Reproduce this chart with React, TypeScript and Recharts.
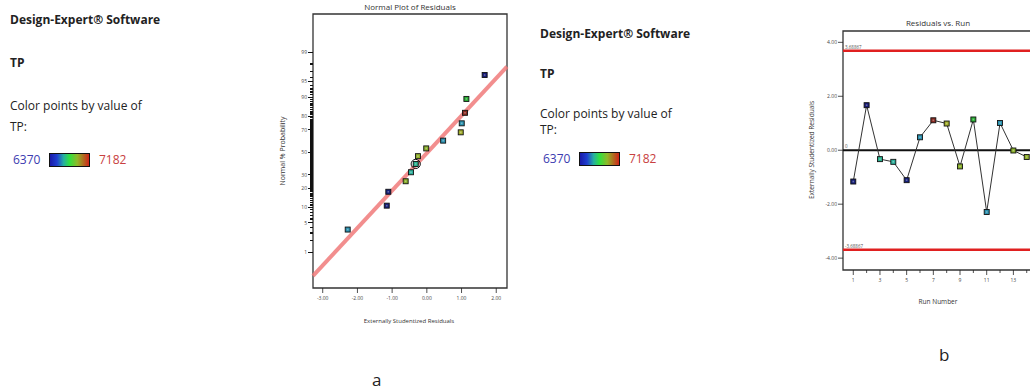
import React from "react";
import {
  ScatterChart,
  Scatter,
  LineChart,
  Line,
  XAxis,
  YAxis,
  ReferenceLine,
  ReferenceArea,
} from "recharts";

// Residuals vs. run
const runNumbers = [1, 2, 3, 4, 5, 6, 7, 8, 9, 10, 11, 12, 13, 14];
const runResiduals = [-1.16, 1.67, -0.33, -0.43, -1.11, 0.48, 1.11, 0.99, -0.6, 1.14, -2.29, 1.01, -0.01, -0.25];
// TP response per run, estimated from the point colours
const runTP = [6386, 6380, 6625, 6605, 6390, 6524, 7166, 6963, 6922, 6760, 6524, 6530, 6922, 6930];

// Normal plot of residuals (panel a), points in plotted order
const normalResiduals = [-2.28, -1.155, -1.11, -0.61, -0.457, -0.32, -0.256, -0.017, 0.47, 0.977, 1.006, 1.1, 1.14, 1.666];
const normalProbability = [3.6, 10.7, 17.9, 25, 32.1, 39.3, 46.4, 53.6, 60.7, 67.9, 75, 82.1, 89.3, 96.4];
const normalRun = [11, 1, 5, 9, 4, 3, 14, 13, 6, 8, 12, 7, 10, 2];
const highlightedRun = 3;

const fitLineResiduals = [-3.28, 2.31];
const fitLineProbability = [0.2, 97.7];

const probTickLabels = [1, 5, 10, 20, 30, 50, 70, 80, 90, 95, 99];
const residualTickLabels = [-3, -2, -1, 0, 1, 2];
const studentizedTicks = [-4, -2, 0, 2, 4];
const controlLimit = 3.68867;

const TP_MIN = 6370;
const TP_MAX = 7182;

// inverse normal CDF (Acklam) for the probability axis
function probit(pct: number) {
  const p = pct / 100;
  const a = [-39.69683028665376, 220.9460984245205, -275.9285104469687, 138.357751867269, -30.66479806614716, 2.506628277459239];
  const b = [-54.47609879822406, 161.5858368580409, -155.6989798598866, 66.80131188771972, -13.28068155288572];
  const c = [-0.007784894002430293, -0.3223964580411365, -2.400758277161838, -2.549732539343734, 4.374664141464968, 2.938163982698783];
  const d = [0.007784695709041462, 0.3224671290700398, 2.445134137142996, 3.754408661907416];
  const pl = 0.02425;
  if (p < pl) {
    const q = Math.sqrt(-2 * Math.log(p));
    return (((((c[0] * q + c[1]) * q + c[2]) * q + c[3]) * q + c[4]) * q + c[5]) / ((((d[0] * q + d[1]) * q + d[2]) * q + d[3]) * q + 1);
  }
  if (p <= 1 - pl) {
    const q = p - 0.5;
    const r = q * q;
    return ((((((a[0] * r + a[1]) * r + a[2]) * r + a[3]) * r + a[4]) * r + a[5]) * q) / (((((b[0] * r + b[1]) * r + b[2]) * r + b[3]) * r + b[4]) * r + 1);
  }
  const q = Math.sqrt(-2 * Math.log(1 - p));
  return -(((((c[0] * q + c[1]) * q + c[2]) * q + c[3]) * q + c[4]) * q + c[5]) / ((((d[0] * q + d[1]) * q + d[2]) * q + d[3]) * q + 1);
}

// blue -> cyan -> green -> yellow -> red, like the Design-Expert colour bar
function tpColor(tp: number) {
  const t = Math.max(0, Math.min(1, (tp - TP_MIN) / (TP_MAX - TP_MIN)));
  const hue = 240 * (1 - t);
  const light = t < 0.12 ? 26 + 12 * (t / 0.12) : t > 0.9 ? 38 - 6 * ((t - 0.9) / 0.1) : 42;
  const sat = t < 0.12 ? 70 : 62;
  return `hsl(${hue.toFixed(0)}, ${sat}%, ${light.toFixed(0)}%)`;
}

const normalData = normalResiduals.map((res, i) => ({
  res,
  z: probit(normalProbability[i]),
  tp: runTP[normalRun[i] - 1],
  run: normalRun[i],
}));

const runData = runNumbers.map((run, i) => ({ run, res: runResiduals[i], tp: runTP[i] }));

const fitSegment = fitLineResiduals.map((x, i) => ({ x, y: probit(fitLineProbability[i]) }));

const majorZ = probTickLabels.map((p) => probit(p));
const minorZ: number[] = [];
for (let p = 1; p <= 99; p++) {
  if (!probTickLabels.includes(p)) minorZ.push(probit(p));
}
const probTicksZ = [...majorZ, ...minorZ];

const Z_DOMAIN: [number, number] = [-3.16, 3.22];
const RES_DOMAIN: [number, number] = [-3.28, 2.31];
const RUN_DOMAIN: [number, number] = [0.23, 14.62];
const STU_DOMAIN: [number, number] = [-4.44, 4.42];

const tickFont = { fontSize: 5, fill: "#444", fontFamily: "'Open Sans', sans-serif" };

const ProbTick = (props: any) => {
  const { x, y, payload } = props;
  const idx = majorZ.findIndex((z) => Math.abs(z - payload.value) < 1e-9);
  const major = idx >= 0;
  return (
    <g>
      <line
        x1={x}
        x2={x - (major ? 5 : 3.5)}
        y1={y}
        y2={y}
        stroke="#111"
        strokeWidth={major ? 1 : 1.2}
        shapeRendering="crispEdges"
      />
      {major && (
        <text x={x - 6} y={y + 1.8} textAnchor="end" {...tickFont}>
          {probTickLabels[idx]}
        </text>
      )}
    </g>
  );
};

const ResTick = (props: any) => {
  const { x, y, payload } = props;
  return (
    <g>
      <line x1={x} x2={x} y1={y} y2={y + 5} stroke="#222" strokeWidth={0.8} />
      <text x={x} y={y + 12} textAnchor="middle" {...tickFont}>
        {payload.value.toFixed(2)}
      </text>
    </g>
  );
};

const RunTick = (props: any) => {
  const { x, y, payload } = props;
  const major = payload.value % 2 === 1;
  return (
    <g>
      <line x1={x} x2={x} y1={y} y2={y + (major ? 5 : 3)} stroke="#222" strokeWidth={0.8} />
      {major && (
        <text x={x} y={y + 12} textAnchor="middle" {...tickFont}>
          {payload.value}
        </text>
      )}
    </g>
  );
};

const StuTick = (props: any) => {
  const { x, y, payload } = props;
  return (
    <g>
      <line x1={x} x2={x - 5} y1={y} y2={y} stroke="#222" strokeWidth={0.8} />
      <text x={x - 6} y={y + 1.8} textAnchor="end" {...tickFont}>
        {payload.value.toFixed(2)}
      </text>
    </g>
  );
};

const SquareDot = (props: any) => {
  const { cx, cy, payload, ring } = props;
  if (cx == null || cy == null) return null;
  return (
    <g>
      {ring && <circle cx={cx} cy={cy} r={4.6} fill="none" stroke="#111" strokeWidth={1} />}
      <rect x={cx - 2.5} y={cy - 2.5} width={5} height={5} fill={tpColor(payload.tp)} stroke="#111" strokeWidth={0.9} />
      <rect x={cx - 0.8} y={cy - 0.8} width={1.6} height={1.6} fill="#fff" fillOpacity={0.35} />
    </g>
  );
};

const limitLabel = (text: string) => (props: any) => {
  const vb = props.viewBox || {};
  return (
    <text x={(vb.x || 0) + 2} y={(vb.y || 0) - 2} fontSize={4.5} fill="#555" fontFamily="'Open Sans', sans-serif">
      {text}
    </text>
  );
};

type TxtProps = { x: number; cy: number; size: number; bold?: boolean; color?: string; children: React.ReactNode };
const Txt = ({ x, cy, size, bold, color, children }: TxtProps) => (
  <div
    style={{
      position: "absolute",
      left: x,
      top: cy - size * 0.63,
      fontSize: size,
      lineHeight: `${size * 1.2}px`,
      fontWeight: bold ? 700 : 400,
      color: color || "#222",
      whiteSpace: "nowrap",
    }}
  >
    {children}
  </div>
);

const CenterTxt = ({ cx, cy, size, rotate, children }: { cx: number; cy: number; size: number; rotate?: boolean; children: React.ReactNode }) => (
  <div
    style={{
      position: "absolute",
      left: cx,
      top: cy,
      fontSize: size,
      lineHeight: `${size * 1.2}px`,
      color: "#333",
      whiteSpace: "nowrap",
      transform: `translate(-50%, -50%)${rotate ? " rotate(-90deg)" : ""}`,
    }}
  >
    {children}
  </div>
);

const InfoBlock = ({ x, rows }: { x: number; rows: number[] }) => (
  <>
    <Txt x={x} cy={rows[0]} size={12} bold>
      Design-Expert® Software
    </Txt>
    <Txt x={x} cy={rows[1]} size={12} bold>
      TP
    </Txt>
    <Txt x={x} cy={rows[2]} size={12}>
      Color points by value of
    </Txt>
    <Txt x={x} cy={rows[3]} size={12}>
      TP:
    </Txt>
    <Txt x={x + 3} cy={rows[4]} size={12} color="#3b3bb0">
      {TP_MIN}
    </Txt>
    <div
      style={{
        position: "absolute",
        left: x + 39,
        top: rows[4] - 8,
        width: 41,
        height: 14,
        border: "1px solid #111",
        boxSizing: "border-box",
        background:
          "linear-gradient(to right, #1a1aa8 0%, #1f3fd0 18%, #25b0a0 35%, #30e040 50%, #90b828 70%, #d02418 100%)",
      }}
    />
    <Txt x={x + 89} cy={rows[4]} size={12} color="#c84040">
      {TP_MAX}
    </Txt>
  </>
);

export default function App() {
  return (
    <div
      style={{
        position: "absolute",
        left: 0,
        top: 0,
        width: 1030,
        height: 391,
        overflow: "hidden",
        background: "#fff",
        fontFamily: "'Open Sans', sans-serif",
      }}
    >
      <InfoBlock x={10} rows={[21, 64, 107, 128, 161]} />
      <InfoBlock x={540} rows={[35, 75, 115, 131, 160]} />

      {/* a: normal plot */}
      <CenterTxt cx={410} cy={7} size={8}>
        Normal Plot of Residuals
      </CenterTxt>
      <CenterTxt cx={283} cy={151} size={7} rotate>
        Normal % Probability
      </CenterTxt>
      <CenterTxt cx={409} cy={322} size={6}>
        Externally Studentized Residuals
      </CenterTxt>
      <div style={{ position: "absolute", left: 260, top: 0 }}>
        <ScatterChart width={260} height={340} margin={{ top: 14, right: 13, bottom: 22, left: 13 }}>
          <XAxis
            type="number"
            dataKey="res"
            domain={RES_DOMAIN}
            allowDataOverflow
            ticks={residualTickLabels}
            interval={0}
            tick={(p: any) => <ResTick {...p} />}
            tickLine={false}
            axisLine={false}
            tickSize={0}
            tickMargin={0}
            height={30}
          />
          <YAxis
            type="number"
            dataKey="z"
            domain={Z_DOMAIN}
            allowDataOverflow
            ticks={probTicksZ}
            interval={0}
            tick={(p: any) => <ProbTick {...p} />}
            tickLine={false}
            axisLine={false}
            tickSize={0}
            tickMargin={0}
            width={40}
          />
          <ReferenceArea
            x1={RES_DOMAIN[0]}
            x2={RES_DOMAIN[1]}
            y1={Z_DOMAIN[0]}
            y2={Z_DOMAIN[1]}
            fill="none"
            fillOpacity={0}
            stroke="#333"
            strokeWidth={1.3}
          />
          <ReferenceLine segment={fitSegment} stroke="#f07a7a" strokeWidth={4} strokeOpacity={0.85} />
          <Scatter
            data={normalData}
            shape={(p: any) => <SquareDot {...p} ring={p.payload && p.payload.run === highlightedRun} />}
            isAnimationActive={false}
          />
        </ScatterChart>
      </div>
      <div style={{ position: "absolute", left: 372, top: 368, fontSize: 17, color: "#222" }}>a</div>

      {/* b: residuals vs run */}
      <CenterTxt cx={938} cy={23} size={8}>
        Residuals vs. Run
      </CenterTxt>
      <CenterTxt cx={812} cy={150} size={6.5} rotate>
        Externally Studentized Residuals
      </CenterTxt>
      <CenterTxt cx={938} cy={302} size={6.5}>
        Run Number
      </CenterTxt>
      <div style={{ position: "absolute", left: 790, top: 0 }}>
        <LineChart data={runData} width={260} height={330} margin={{ top: 31, right: 15, bottom: 30, left: 13 }}>
          <XAxis
            type="number"
            dataKey="run"
            domain={RUN_DOMAIN}
            allowDataOverflow
            ticks={runNumbers}
            interval={0}
            tick={(p: any) => <RunTick {...p} />}
            tickLine={false}
            axisLine={false}
            tickSize={0}
            tickMargin={0}
            height={30}
          />
          <YAxis
            type="number"
            domain={STU_DOMAIN}
            allowDataOverflow
            ticks={studentizedTicks}
            interval={0}
            tick={(p: any) => <StuTick {...p} />}
            tickLine={false}
            axisLine={false}
            tickSize={0}
            tickMargin={0}
            width={40}
          />
          <ReferenceArea
            x1={RUN_DOMAIN[0]}
            x2={RUN_DOMAIN[1]}
            y1={STU_DOMAIN[0]}
            y2={STU_DOMAIN[1]}
            fill="none"
            fillOpacity={0}
            stroke="#333"
            strokeWidth={1.3}
          />
          <ReferenceLine y={controlLimit} stroke="#e02020" strokeWidth={2.5} label={limitLabel(String(controlLimit))} />
          <ReferenceLine y={-controlLimit} stroke="#e02020" strokeWidth={2.5} label={limitLabel(String(-controlLimit))} />
          <ReferenceLine y={0} stroke="#111" strokeWidth={2} label={limitLabel("0")} />
          <Line
            type="linear"
            dataKey="res"
            stroke="#333"
            strokeWidth={1}
            dot={(p: any) => <SquareDot key={p.index} {...p} />}
            isAnimationActive={false}
          />
        </LineChart>
      </div>
      <div style={{ position: "absolute", left: 939, top: 343, fontSize: 17, color: "#222" }}>b</div>
    </div>
  );
}
